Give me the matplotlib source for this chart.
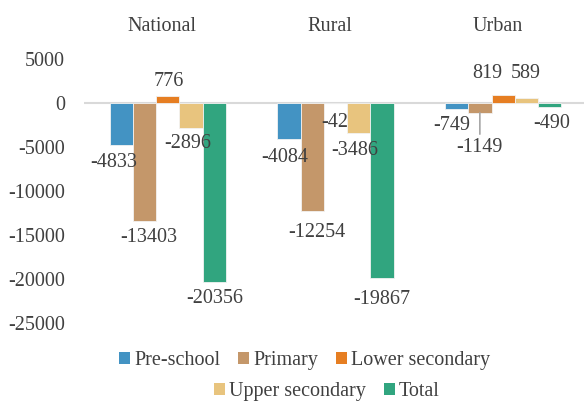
import matplotlib.pyplot as plt
import numpy as np
from matplotlib.patches import Patch
from matplotlib.transforms import blended_transform_factory

plt.rcParams['font.family'] = ['Liberation Serif', 'DejaVu Serif']

# change in enrolment by level and area
areas = ['National', 'Rural', 'Urban']
levels = ['Pre-school', 'Primary', 'Lower secondary', 'Upper secondary', 'Total']
preschool = [-4833, -4084, -749]
primary = [-13403, -12254, -1149]
lower_sec = [776, -42, 819]
upper_sec = [-2896, -3486, 589]
total = [-20356, -19867, -490]
yticks = [5000, 0, -5000, -10000, -15000, -20000, -25000]

colors = ['#4393C3', '#C4976A', '#E67E22', '#E8C47E', '#31A57F']
text_col = '#404040'
fs = 14.5

# label offsets from bar end, in pixels (dx right, dy down)
label_off = [
    [(-8, 17), (-4, 19), (-5, 16)],
    [(4, 17), (4.5, 22), (0, 35)],
    [(1, -14), (-0.5, 19), (-16, -22)],
    [(-3, 15), (-4, 17), (-1, -24)],
    [(0.5, 16.5), (0, 21.5), (2, 16)],
]

series = [preschool, primary, lower_sec, upper_sec, total]

fig = plt.figure(figsize=(5.84, 4.01), dpi=100)
ax = fig.add_axes([84 / 584, 78.3 / 401, 503 / 584, 264 / 401])

x = np.arange(len(areas))
w = 0.139
for i, vals in enumerate(series):
    xs = x + (i - 2) * w
    ax.bar(xs, vals, width=w, color=colors[i], edgecolor='#F2F2F2',
           linewidth=0.6, zorder=3)
    for j, v in enumerate(vals):
        dx, dy = label_off[i][j]
        kw = {}
        if i == 1 and j == 2:
            kw['arrowprops'] = dict(arrowstyle='-', color='#A6A6A6', lw=1.2,
                                    shrinkA=1, shrinkB=0, relpos=(0.5, 1))
        ax.annotate(str(v), xy=(xs[j], v), xytext=(dx * 0.72, -dy * 0.72),
                    textcoords='offset points', ha='center', va='center',
                    fontsize=fs, color=text_col, zorder=5, **kw)

ax.axhline(0, color='#D9D9D9', lw=1.5, zorder=2)
ax.set_xlim(-0.5, 2.5)
ax.set_ylim(-25000, 5000)
ax.set_yticks(yticks)
ax.set_yticklabels([str(t) for t in yticks])
ax.tick_params(axis='y', length=0, pad=13.5, labelsize=fs, labelcolor=text_col)
ax.set_xticks([])
for s in ax.spines.values():
    s.set_visible(False)

# area names above the plot
trans = blended_transform_factory(ax.transData, ax.transAxes)
for j, name in enumerate(areas):
    ax.annotate(name, xy=(x[j], 1), xycoords=trans, xytext=(-4, 23.5),
                textcoords='offset points', ha='center', va='center',
                fontsize=fs, color=text_col)

handles = [Patch(facecolor=c) for c in colors]
leg_kw = dict(frameon=False, fontsize=fs, handlelength=0.55, handleheight=0.55,
              handletextpad=0.2, columnspacing=0.9, borderpad=0, loc='center',
              labelcolor=text_col)
fig.legend(handles[:3], levels[:3], ncol=3,
           bbox_to_anchor=(304.7 / 584, 1 - 360.7 / 401), **leg_kw)
fig.legend(handles[3:], levels[3:], ncol=2,
           bbox_to_anchor=(326.7 / 584, 1 - 391.7 / 401), **leg_kw)

fig.savefig('out.png', dpi=100)
